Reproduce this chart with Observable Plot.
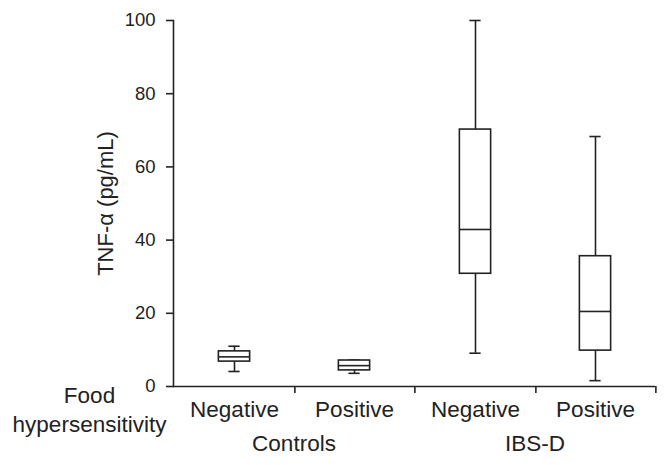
<!DOCTYPE html>
<html>
<head>
<meta charset="utf-8">
<script src="https://cdn.jsdelivr.net/npm/d3@7"></script>
<script src="https://cdn.jsdelivr.net/npm/@observablehq/plot@0.6"></script>
<style>
  html, body { margin: 0; padding: 0; background: white; }
</style>
</head>
<body>
<div id="chart"></div>
<script>
// ---- data ----
const groups = ["Controls", "Controls", "IBS-D", "IBS-D"];
const hypersensitivity = ["Negative", "Positive", "Negative", "Positive"];
const whiskerLow  = [4.1, 3.6, 9.1, 1.6];
const q1          = [6.8, 4.4, 30.8, 9.8];
const median      = [8.1, 5.7, 42.9, 20.5];
const q3          = [9.6, 7.1, 70.2, 35.6];
const whiskerHigh = [11.0, 7.2, 100, 68.3];
const yTicks = [0, 20, 40, 60, 80, 100];
const yLabel = "TNF-α (pg/mL)";
const rowLabel = "Food\nhypersensitivity";

const data = groups.map((g, i) => ({
  group: g, sens: hypersensitivity[i],
  lo: whiskerLow[i], q1: q1[i], med: median[i], q3: q3[i], hi: whiskerHigh[i]
}));

const W = 668, H = 465, mL = 172, mR = 13, mT = 20, mB = 79;
const band = (W - mL - mR) / 4;
const boxInset = (band - 32) / 2;
const capInset = (band - 12) / 2;
const ink = "#222";
const sw = 1.6;

const chart = Plot.plot({
  width: W, height: H,
  marginLeft: mL, marginRight: mR, marginTop: mT, marginBottom: mB,
  style: {fontFamily: "'Liberation Sans', Arial, sans-serif", fontSize: "18px", color: ink, background: "white"},
  fx: {domain: [...new Set(groups)], padding: 0, label: null},
  x: {domain: ["Negative", "Positive"], padding: 0, label: null},
  y: {domain: [0, 100], label: null},
  marks: [
    Plot.axisY({ticks: yTicks, tickSize: 7, tickPadding: 11, fontSize: 18.5, label: null, stroke: ink, strokeWidth: sw}),
    Plot.frame({anchor: "left", facetAnchor: "left", stroke: ink, strokeWidth: sw}),
    Plot.ruleY([0], {stroke: ink, strokeWidth: sw}),
    Plot.axisX({tickSize: 7, fill: "none", label: null, dx: band / 2, stroke: ink, strokeWidth: sw}),
    Plot.axisX({tickSize: 0, tickPadding: 15, fontSize: 22.5, label: null}),
    Plot.axisFx({anchor: "bottom", tickSize: 0, tickPadding: 49, fontSize: 22.5, label: null}),
    Plot.ruleX(data, {fx: "group", x: "sens", y1: "lo", y2: "q1", stroke: ink, strokeWidth: sw}),
    Plot.ruleX(data, {fx: "group", x: "sens", y1: "q3", y2: "hi", stroke: ink, strokeWidth: sw}),
    Plot.tickY(data, {fx: "group", x: "sens", y: "lo", insetLeft: capInset, insetRight: capInset, stroke: ink, strokeWidth: sw}),
    Plot.tickY(data, {fx: "group", x: "sens", y: "hi", insetLeft: capInset, insetRight: capInset, stroke: ink, strokeWidth: sw}),
    Plot.barY(data, {fx: "group", x: "sens", y1: "q1", y2: "q3", fill: "white", stroke: ink, strokeWidth: sw, insetLeft: boxInset, insetRight: boxInset}),
    Plot.tickY(data, {fx: "group", x: "sens", y: "med", insetLeft: boxInset, insetRight: boxInset, stroke: ink, strokeWidth: sw}),
    Plot.text([yLabel], {facet: "super", frameAnchor: "left", dx: -68, rotate: -90, textAnchor: "middle", fontSize: 22, fill: ink}),
    Plot.text([rowLabel], {facet: "super", frameAnchor: "bottom-left", dx: -84, dy: -3, lineAnchor: "top", lineHeight: 1.25, textAnchor: "middle", fontSize: 22.5, fill: ink})
  ]
});
document.getElementById("chart").appendChild(chart);
</script>
</body>
</html>
